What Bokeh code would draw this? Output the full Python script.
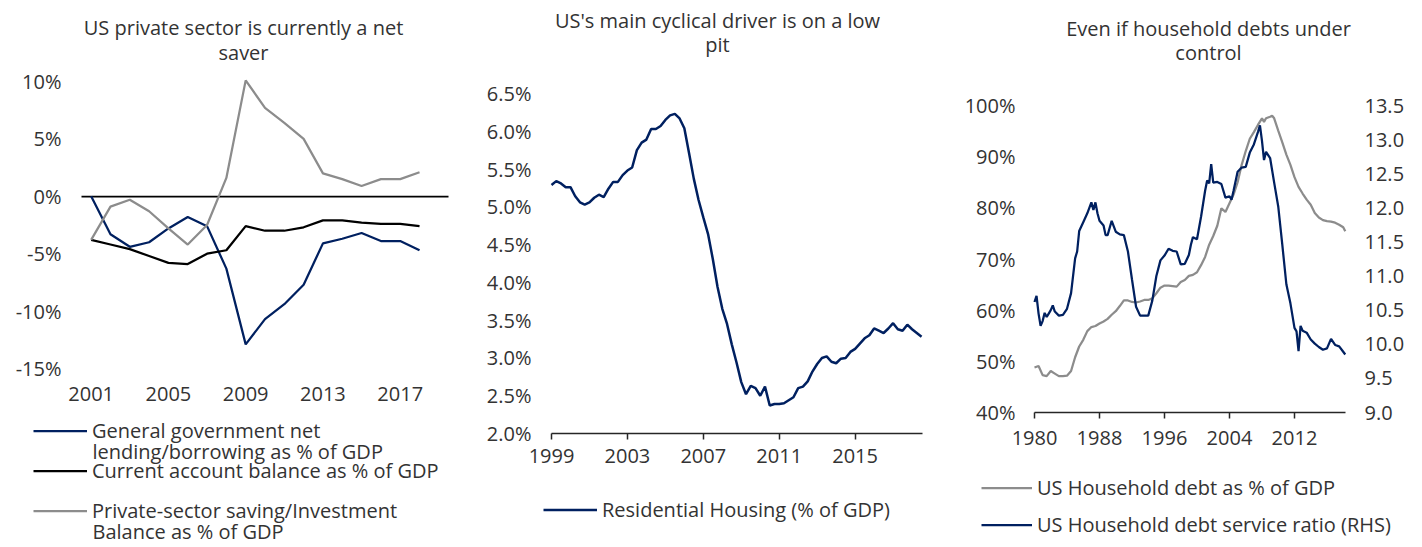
from bokeh.plotting import figure
from bokeh.layouts import row
from bokeh.models import (Range1d, LinearAxis, FixedTicker, PrintfTickFormatter,
                          Legend, LegendItem, Label)
from bokeh.embed import file_html
from bokeh.resources import INLINE

# ---------------- data ----------------
# Panel 1: annual, % of GDP
years1 = [2001, 2002, 2003, 2004, 2005, 2006, 2007, 2008, 2009,
          2010, 2011, 2012, 2013, 2014, 2015, 2016, 2017, 2018]
gov_balance = [0.0, -3.3, -4.4, -4.0, -2.8, -1.8, -2.6, -6.3, -12.9,
               -10.7, -9.4, -7.7, -4.1, -3.7, -3.2, -3.9, -3.9, -4.7]
current_account = [-3.8, -4.2, -4.6, -5.2, -5.8, -5.9, -5.0, -4.7, -2.6,
                   -3.0, -3.0, -2.7, -2.1, -2.1, -2.3, -2.4, -2.4, -2.6]
private_balance = [-3.8, -0.9, -0.3, -1.3, -2.8, -4.2, -2.5, 1.6, 10.1,
                   7.7, 6.4, 5.0, 2.0, 1.5, 0.9, 1.5, 1.5, 2.1]
ticks1_x = [2001, 2005, 2009, 2013, 2017]
ticks1_y = [-15, -10, -5, 0, 5, 10]

# Panel 2: quarterly from 1999Q1, residential investment % of GDP
res_housing = [5.29, 5.34, 5.31, 5.26, 5.26, 5.14, 5.06, 5.03,
               5.06, 5.12, 5.16, 5.13, 5.24, 5.33, 5.33, 5.42,
               5.48, 5.52, 5.75, 5.85, 5.89, 6.03, 6.03, 6.07,
               6.15, 6.21, 6.23, 6.17, 6.04, 5.71, 5.37, 5.09,
               4.86, 4.64, 4.31, 3.94, 3.65, 3.45, 3.18, 2.94,
               2.68, 2.52, 2.63, 2.60, 2.50, 2.62, 2.37, 2.39,
               2.39, 2.40, 2.44, 2.48, 2.60, 2.62, 2.69, 2.82,
               2.92, 3.00, 3.02, 2.95, 2.93, 2.99, 3.00, 3.08,
               3.12, 3.19, 3.26, 3.30, 3.39, 3.36, 3.33, 3.39,
               3.46, 3.38, 3.36, 3.44, 3.38, 3.33, 3.28]
res_dates = [1999 + 0.25 * i for i in range(len(res_housing))]
ticks2_x = [1999, 2003, 2007, 2011, 2015]
ticks2_y = [2.0, 2.5, 3.0, 3.5, 4.0, 4.5, 5.0, 5.5, 6.0, 6.5]

# Panel 3: household debt % of GDP (LHS) and debt service ratio (RHS)
hh_debt_dates = [1980.0, 1980.5, 1981.0, 1981.5, 1982.0, 1982.5, 1983.0, 1983.5, 1984.0, 1984.5,
                 1985.0, 1985.5, 1986.0, 1986.5, 1987.0, 1987.5, 1988.0, 1988.5, 1989.0, 1989.5,
                 1990.0, 1990.5, 1991.0, 1991.5, 1992.0, 1992.5, 1993.0, 1993.5, 1994.0, 1994.5,
                 1995.0, 1995.5, 1996.0, 1996.5, 1997.0, 1997.5, 1998.0, 1998.5, 1999.0, 1999.5,
                 2000.0, 2000.5, 2001.0, 2001.5, 2002.0, 2002.5, 2003.0, 2003.5, 2004.0, 2004.5,
                 2005.0, 2005.5, 2006.0, 2006.5, 2007.0, 2007.5, 2008.0, 2008.25, 2008.5, 2009.0,
                 2009.25, 2009.5, 2010.0, 2010.5, 2011.0, 2011.5, 2012.0, 2012.5, 2013.0, 2013.5,
                 2014.0, 2014.5, 2015.0, 2015.5, 2016.0, 2016.5, 2017.0, 2017.5, 2018.0, 2018.25]
hh_debt_gdp = [48.8, 49.1, 47.3, 47.1, 48.1, 47.6, 47.1, 47.1, 47.2, 48.1,
               50.8, 52.9, 54.2, 55.9, 56.7, 56.9, 57.4, 57.8, 58.3, 59.1,
               59.8, 60.8, 61.9, 61.9, 61.6, 61.5, 61.7, 62.0, 62.0, 62.3,
               63.3, 64.4, 64.8, 64.8, 64.7, 64.6, 65.5, 65.9, 66.7, 66.9,
               67.4, 68.8, 70.4, 72.8, 74.5, 76.5, 79.9, 79.2, 80.9, 82.6,
               85.0, 88.4, 91.1, 93.5, 94.8, 96.2, 97.5, 96.8, 97.5, 97.8,
               98.0, 97.5, 95.1, 92.8, 90.4, 88.4, 86.0, 84.1, 82.8, 81.6,
               80.6, 79.0, 78.1, 77.6, 77.4, 77.3, 77.1, 76.7, 76.2, 75.4]
dsr_dates = [1980.0, 1980.25, 1980.5, 1980.75, 1981.0, 1981.25, 1981.5, 1981.75, 1982.0, 1982.25,
             1982.5, 1983.0, 1983.5, 1984.0, 1984.5, 1985.0, 1985.25, 1985.5, 1986.0, 1986.5,
             1987.0, 1987.25, 1987.5, 1987.75, 1988.0, 1988.5, 1988.75, 1989.0, 1989.5, 1990.0,
             1990.5, 1991.0, 1991.5, 1992.0, 1992.5, 1993.0, 1993.5, 1994.0, 1994.5, 1995.0,
             1995.5, 1996.0, 1996.5, 1997.0, 1997.5, 1998.0, 1998.5, 1999.0, 1999.25, 1999.5,
             2000.0, 2000.5, 2001.0, 2001.25, 2001.5, 2001.75, 2002.0, 2002.5, 2003.0, 2003.5,
             2004.0, 2004.25, 2004.5, 2005.0, 2005.5, 2006.0, 2006.5, 2007.0, 2007.5, 2007.75,
             2008.0, 2008.25, 2008.5, 2009.0, 2009.5, 2010.0, 2010.5, 2011.0, 2011.5, 2012.0,
             2012.25, 2012.5, 2012.75, 2013.0, 2013.5, 2014.0, 2014.5, 2015.0, 2015.5, 2016.0,
             2016.25, 2016.5, 2017.0, 2017.5, 2018.0, 2018.25]
hh_dsr = [10.62, 10.71, 10.45, 10.27, 10.34, 10.46, 10.40, 10.45, 10.50, 10.57,
          10.48, 10.42, 10.43, 10.52, 10.75, 11.26, 11.36, 11.66, 11.79, 11.92,
          12.08, 11.97, 12.08, 11.92, 11.81, 11.74, 11.60, 11.60, 11.81, 11.65,
          11.61, 11.60, 11.36, 10.95, 10.55, 10.42, 10.42, 10.42, 10.64, 11.00,
          11.23, 11.30, 11.40, 11.37, 11.36, 11.17, 11.18, 11.31, 11.46, 11.57,
          11.54, 11.87, 12.25, 12.40, 12.36, 12.64, 12.37, 12.38, 12.35, 12.15,
          12.17, 12.12, 12.25, 12.53, 12.59, 12.60, 12.81, 12.93, 13.11, 13.21,
          12.98, 12.70, 12.82, 12.73, 12.37, 12.02, 11.46, 10.88, 10.60, 10.24,
          10.19, 9.90, 10.27, 10.20, 10.17, 10.07, 10.01, 9.96, 9.92, 9.94,
          10.01, 10.08, 9.99, 9.97, 9.89, 9.85]
ticks3_x = [1980, 1988, 1996, 2004, 2012]
ticks3_y = [40, 50, 60, 70, 80, 90, 100]
ticks3_y2 = [9.0, 9.5, 10.0, 10.5, 11.0, 11.5, 12.0, 12.5, 13.0, 13.5]

title_lines = [("US private sector is currently a net", "saver"),
               ("US's main cyclical driver is on a low", "pit"),
               ("Even if household debts under", "control")]
legend_labels_1 = ["General government net", "lending/borrowing as % of GDP",
                   "Current account balance as % of GDP",
                   "Private-sector saving/Investment", "Balance as % of GDP"]
legend_labels_2 = ["Residential Housing (% of GDP)"]
legend_labels_3 = ["US Household debt as % of GDP", "US Household debt service ratio (RHS)"]

# ---------------- style ----------------
FONT = "Open Sans"
TEXT = "#333333"
NAVY = "#002060"
GREY = "#8c8c8c"
BLACK = "#000000"
AXIS = "#262626"
FS = "20px"
H = 545


class Mapper:
    """Linear pixel <-> value mapping for one figure (pixels from its top-left)."""
    def __init__(self, width, xa, xpa, xb, xpb, ya, ypa, yb, ypb):
        self.w = width
        self.sx = (xpb - xpa) / (xb - xa)
        self.x0 = xa - xpa / self.sx
        self.sy = (ypb - ypa) / (yb - ya)
        self.y0 = ya - ypa / self.sy

    def x(self, px):
        return self.x0 + px / self.sx

    def y(self, py):
        return self.y0 + py / self.sy

    def x_range(self):
        return Range1d(self.x(0), self.x(self.w))

    def y_range(self):
        return Range1d(self.y(H), self.y(0))


def style_axis(ax):
    ax.major_label_text_font = FONT
    ax.major_label_text_font_size = FS
    ax.major_label_text_color = TEXT
    ax.minor_tick_line_color = None
    ax.minor_tick_out = 0
    ax.minor_tick_in = 0


def make_fig(width, m):
    p = figure(width=width, height=H, x_range=m.x_range(), y_range=m.y_range(),
               output_backend="svg", toolbar_location=None, tools="")
    p.min_border = 0
    p.min_border_left = 0
    p.min_border_right = 0
    p.min_border_top = 0
    p.min_border_bottom = 0
    p.outline_line_color = None
    p.xgrid.visible = False
    p.ygrid.visible = False
    for ax in p.xaxis + p.yaxis:
        style_axis(ax)
    for ax in p.yaxis:
        ax.axis_line_color = None
        ax.major_tick_line_color = None
        ax.major_tick_out = 0
        ax.major_tick_in = 0
    return p


def line_axis(ax, standoff):
    ax.axis_line_color = AXIS
    ax.axis_line_width = 1.5
    ax.major_tick_line_color = AXIS
    ax.major_tick_line_width = 1.5
    ax.major_tick_out = 6
    ax.major_tick_in = 0
    ax.major_label_standoff = standoff


def make_legend(items, x, y, glyph_w, item_h):
    leg = Legend(items=items, location=(x, y), orientation="vertical")
    leg.padding = 0
    leg.margin = 0
    leg.spacing = 0
    leg.border_line_color = None
    leg.background_fill_alpha = 0
    leg.glyph_width = glyph_w
    leg.glyph_height = 21
    leg.label_height = item_h
    leg.label_standoff = 5
    leg.label_text_font = FONT
    leg.label_text_font_size = FS
    leg.label_text_color = TEXT
    return leg


def add_text(p, m, text, px, py, align="center"):
    p.add_layout(Label(x=m.x(px), y=m.y(py), text=text, text_align=align,
                       text_baseline="middle", text_font=FONT, text_font_size=FS,
                       text_color=TEXT))


# ---------------- panel 1 (page x 0..470) ----------------
m1 = Mapper(470, 2000.5, 81, 2019.5, 448, 10, 81, -15, 368)
p1 = make_fig(470, m1)
p1.xaxis.ticker = FixedTicker(ticks=ticks1_x)
p1.xaxis.formatter = PrintfTickFormatter(format="%d")
p1.xaxis.fixed_location = ticks1_y[0]
p1.xaxis.axis_line_color = None
p1.xaxis.major_tick_line_color = None
p1.xaxis.major_tick_out = 0
p1.xaxis.major_tick_in = 0
p1.xaxis.major_label_standoff = 18
p1.yaxis.ticker = FixedTicker(ticks=ticks1_y)
p1.yaxis.formatter = PrintfTickFormatter(format="%d%%")
p1.yaxis.fixed_location = 2000.5
p1.yaxis.major_label_standoff = 20
# horizontal axis crossing at zero, limited to the plot area
zero_axis = LinearAxis(fixed_location=0, ticker=FixedTicker(ticks=[]),
                       bounds=(2000.5, 2019.5), axis_line_color=BLACK,
                       axis_line_width=1.75, major_tick_line_color=None,
                       minor_tick_line_color=None, level="underlay")
p1.add_layout(zero_axis, "below")
r_gov = p1.line(years1, gov_balance, line_color=NAVY, line_width=2.25)
r_ca = p1.line(years1, current_account, line_color=BLACK, line_width=2.25)
r_priv = p1.line(years1, private_balance, line_color=GREY, line_width=2.25)
leg1 = make_legend([
    LegendItem(label=legend_labels_1[0], renderers=[r_gov]),
    LegendItem(label=legend_labels_1[2], renderers=[r_ca]),
    LegendItem(label=legend_labels_1[3], renderers=[r_priv]),
], 33, H - 530, 54, 40)
p1.add_layout(leg1)
add_text(p1, m1, legend_labels_1[1], 92, 451, "left")
add_text(p1, m1, legend_labels_1[4], 92, 531, "left")
add_text(p1, m1, title_lines[0][0], 243, 27)
add_text(p1, m1, title_lines[0][1], 243, 52)

# ---------------- panel 2 (page x 470..935) ----------------
m2 = Mapper(465, 1999, 81, 2018.55, 452, 6.5, 93, 2.0, 433)
p2 = make_fig(465, m2)
p2.xaxis.ticker = FixedTicker(ticks=ticks2_x)
p2.xaxis.formatter = PrintfTickFormatter(format="%d")
p2.xaxis.fixed_location = ticks2_y[0]
p2.xaxis.bounds = (1999, 2018.55)
line_axis(p2.xaxis[0], 9)
p2.yaxis.ticker = FixedTicker(ticks=ticks2_y)
p2.yaxis.formatter = PrintfTickFormatter(format="%.1f%%")
p2.yaxis.fixed_location = 1999
p2.yaxis.major_label_standoff = 20
r_res = p2.line(res_dates, res_housing, line_color=NAVY, line_width=2.5)
leg2 = make_legend([LegendItem(label=legend_labels_2[0], renderers=[r_res])],
                   73, H - 524, 54, 30)
p2.add_layout(leg2)
add_text(p2, m2, title_lines[1][0], 247, 20)
add_text(p2, m2, title_lines[1][1], 247, 44)

# ---------------- panel 3 (page x 935..1414) ----------------
m3 = Mapper(479, 1980, 99, 2018.28, 410, 100, 105, 40, 412)
m3r = Mapper(479, 1980, 99, 2018.28, 410, 13.5, 105, 9.0, 412)
p3 = make_fig(479, m3)
p3.extra_y_ranges = {"rhs": m3r.y_range()}
p3.xaxis.ticker = FixedTicker(ticks=ticks3_x)
p3.xaxis.formatter = PrintfTickFormatter(format="%d")
p3.xaxis.fixed_location = ticks3_y[0]
p3.xaxis.bounds = (1980, 2018.28)
line_axis(p3.xaxis[0], 12)
p3.yaxis.ticker = FixedTicker(ticks=ticks3_y)
p3.yaxis.formatter = PrintfTickFormatter(format="%d%%")
p3.yaxis.fixed_location = 1980
p3.yaxis.major_label_standoff = 19
rax = LinearAxis(y_range_name="rhs", ticker=FixedTicker(ticks=ticks3_y2),
                 formatter=PrintfTickFormatter(format="%.1f"), fixed_location=2018.28)
style_axis(rax)
rax.axis_line_color = None
rax.major_tick_line_color = None
rax.major_tick_out = 0
rax.major_tick_in = 0
rax.major_label_standoff = 19
p3.add_layout(rax, "right")
r_debt = p3.line(hh_debt_dates, hh_debt_gdp, line_color=GREY, line_width=2.25)
r_dsr = p3.line(dsr_dates, hh_dsr, line_color=NAVY, line_width=2.25, y_range_name="rhs")
leg3 = make_legend([
    LegendItem(label=legend_labels_3[0], renderers=[r_debt]),
    LegendItem(label=legend_labels_3[1], renderers=[r_dsr]),
], 46, 2, 51, 37)
p3.add_layout(leg3)
add_text(p3, m3, title_lines[2][0], 273, 28)
add_text(p3, m3, title_lines[2][1], 273, 52)

layout = row(p1, p2, p3, spacing=0)
open("out.html", "w").write(file_html(layout, INLINE))
